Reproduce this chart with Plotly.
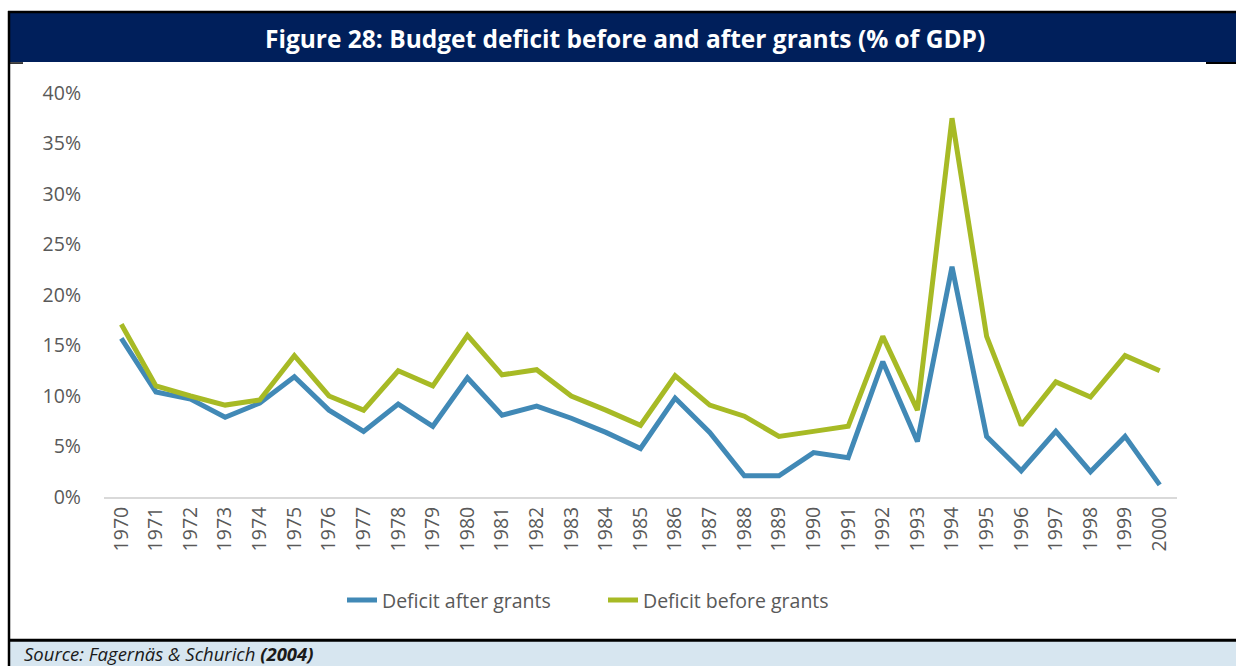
import plotly.graph_objects as go

years = [str(y) for y in range(1970, 2001)]
after_grants = [15.7, 10.4, 9.7, 7.9, 9.3, 11.9, 8.6, 6.5, 9.2, 7.0,
                11.8, 8.1, 9.0, 7.8, 6.4, 4.8, 9.8, 6.4, 2.1, 2.1,
                4.4, 3.9, 13.4, 5.5, 22.8, 6.0, 2.6, 6.5, 2.5, 6.0, 1.2]
before_grants = [17.1, 11.0, 10.0, 9.1, 9.6, 14.0, 10.0, 8.6, 12.5, 11.0,
                 16.0, 12.1, 12.6, 10.0, 8.6, 7.1, 12.0, 9.1, 8.0, 6.0,
                 6.5, 7.0, 15.9, 8.6, 37.5, 15.9, 7.1, 11.4, 9.9, 14.0, 12.5]
y_ticks = [0, 5, 10, 15, 20, 25, 30, 35, 40]
y_tick_labels = [f"{v}%" for v in y_ticks]

W, H = 1236, 666
L, R, T, B = 104, 59, 93, 168.5
pw, ph = W - L - R, H - T - B


def px(x):
    return (x - L) / pw


def py(y):
    return (H - B - y) / ph


fig = go.Figure()
fig.add_trace(go.Scatter(x=years, y=after_grants, mode="lines", name="Deficit after grants",
                         line=dict(color="#4189B6", width=5)))
fig.add_trace(go.Scatter(x=years, y=before_grants, mode="lines", name="Deficit before grants",
                         line=dict(color="#A7BA25", width=5)))

shapes = [
    # title bar
    dict(type="rect", xref="paper", yref="paper", x0=px(9), x1=px(1240), y0=py(62), y1=py(12),
         line=dict(width=0), fillcolor="#001F5B", layer="below"),
    # source bar
    dict(type="rect", xref="paper", yref="paper", x0=px(9), x1=px(1240), y0=py(670), y1=py(641),
         line=dict(width=0), fillcolor="#D7E6F0", layer="below"),
    # borders
    dict(type="line", xref="paper", yref="paper", x0=px(8), x1=px(1240), y0=py(12), y1=py(12),
         line=dict(color="black", width=2.5)),
    dict(type="line", xref="paper", yref="paper", x0=px(9), x1=px(9), y0=py(11), y1=py(670),
         line=dict(color="black", width=2.5)),
    dict(type="line", xref="paper", yref="paper", x0=px(8), x1=px(1240), y0=py(641), y1=py(641),
         line=dict(color="black", width=3)),
    dict(type="line", xref="paper", yref="paper", x0=px(1206), x1=px(1240), y0=py(63), y1=py(63),
         line=dict(color="black", width=2)),
    dict(type="line", xref="paper", yref="paper", x0=px(8), x1=px(23), y0=py(63), y1=py(63),
         line=dict(color="black", width=1.5)),
]

annotations = [
    dict(text="<b>Figure 28: Budget deficit before and after grants (% of GDP)</b>",
         xref="paper", yref="paper", x=px(625), y=py(38), xanchor="center", yanchor="middle",
         showarrow=False, font=dict(family="Open Sans", size=24.5, color="white")),
    dict(text="<i>Source: Fagernäs &amp; Schurich </i><b><i>(2004)</i></b>",
         xref="paper", yref="paper", x=px(22), y=py(654), xanchor="left", yanchor="middle",
         showarrow=False, font=dict(family="Open Sans", size=18.5, color="#1a1a1a")),
]

fig.update_layout(
    width=W, height=H,
    margin=dict(l=L, r=R, t=T, b=B, autoexpand=False),
    paper_bgcolor="white", plot_bgcolor="white",
    shapes=shapes, annotations=annotations,
    font=dict(family="Open Sans", color="#595959", size=19),
    legend=dict(orientation="h", x=px(342), xanchor="left", y=py(601), yanchor="middle",
                font=dict(size=19.5, color="#595959"), itemwidth=30,
                entrywidth=216, entrywidthmode="pixels", bgcolor="rgba(0,0,0,0)"),
    showlegend=True,
)
fig.update_xaxes(type="category", range=[-0.5, 30.5], tickangle=-90, showgrid=False,
                 showline=True, linecolor="#D9D9D9", linewidth=2, ticks="",
                 tickfont=dict(size=19.5, color="#595959"), fixedrange=True)
fig.update_yaxes(range=[0, 40], tickvals=y_ticks, ticktext=y_tick_labels, showgrid=False,
                 zeroline=False, showline=False, ticks="", ticklabelstandoff=22,
                 tickfont=dict(size=19.5, color="#595959"), fixedrange=True)

fig.write_html("out.html")
